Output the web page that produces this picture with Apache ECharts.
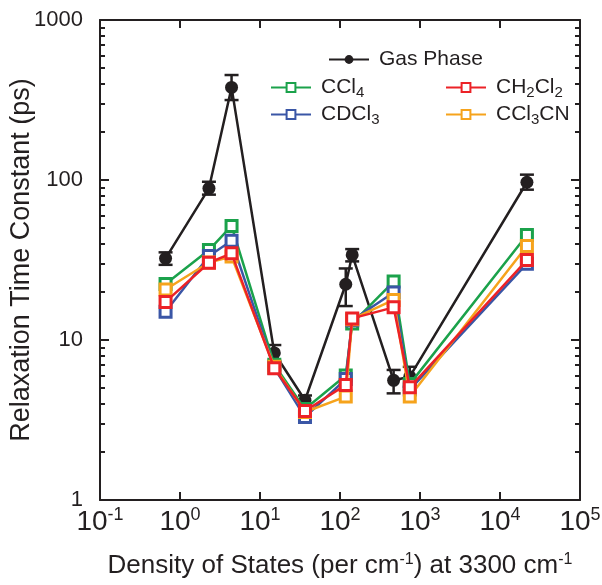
<!DOCTYPE html>
<html>
<head>
<meta charset="utf-8">
<script src="https://cdn.jsdelivr.net/npm/echarts@6/dist/echarts.min.js"></script>
<style>html,body{margin:0;padding:0;background:#fff}#c{width:602px;height:585px}</style>
</head>
<body>
<div id="c"></div>
<script>
// ---- data ----
const xVals   = [0.66, 2.3, 4.41, 15.1, 36.5, 118, 142, 468, 745, 21700];
const gas     = [32.4, 88.7, 379, 8.3, 4.2, 22.3, 34, 5.6, 5.9, 96.8];
const gasLow  = [29.5, 81, 316, 7.4, 3.9, 16.3, 31, 4.64, 5.1, 87];
const gasHigh = [35.3, 97.5, 453, 9.3, 4.5, 28, 37, 6.5, 6.8, 108];
const ccl4    = [22.4, 36.5, 51.6, 7.0, 3.7, 6.0, 12.7, 23.2, 5.3, 45.3];
const cdcl3   = [15.0, 33.5, 41.7, 6.7, 3.3, 5.7, 13.3, 19.8, 4.9, 30.0];
const ch2cl2  = [17.3, 30.4, 34.8, 6.65, 3.6, 5.24, 13.65, 16.0, 5.06, 31.6];
const ccl3cn  = [20.7, 30.5, 33.2, 6.8, 3.55, 4.43, 13.5, 17.8, 4.43, 38.7];
const xTicks  = [0.1, 1, 10, 100, 1000, 10000, 100000];
const yTicks  = [1, 10, 100, 1000];
const yMinor  = [2,3,4,5,6,7,8,9,20,30,40,50,60,70,80,90,200,300,400,500,600,700,800,900];

const names = {
  'Gas Phase': 'Gas Phase',
  'CCl4': 'CCl{s|4}',
  'CDCl3': 'CDCl{s|3}',
  'CH2Cl2': 'CH{s|2}Cl{s|2}',
  'CCl3CN': 'CCl{s|3}CN'
};

const INK = '#231F20';
const FONT = '"Liberation Sans", Arial, Helvetica, sans-serif';
const zip = arr => xVals.map((x, i) => [x, arr[i]]);

const chart = echarts.init(document.getElementById('c'), null, {renderer: 'canvas'});

function yAxisDef(pos, ticks, len, showLine, showLabel) {
  return {
    type: 'log', min: 1, max: 1000, position: pos,
    axisLine: {show: showLine, lineStyle: {color: INK, width: 2}},
    axisTick: {show: true, inside: true, length: len, customValues: ticks, lineStyle: {color: INK, width: 2}},
    axisLabel: {show: showLabel, customValues: ticks, fontSize: 22, color: INK, fontFamily: FONT, margin: 17,
                formatter: v => String(Math.round(v))},
    splitLine: {show: false},
    minorTick: {show: false}
  };
}

const legendText = {
  fontSize: 21, color: INK, fontFamily: FONT, padding: [0, 0, 0, 5],
  rich: {
    s: {fontSize: 15, color: INK, fontFamily: FONT, verticalAlign: 'bottom', padding: [10, 0, 0, 0]}
  }
};
const legendCommon = {
  itemWidth: 40, itemHeight: 11, itemGap: 4, padding: 0,
  textStyle: legendText,
  formatter: n => names[n]
};

function solvent(name, data, color, z) {
  return {
    name, type: 'line', data: zip(data), z,
    symbol: 'rect', symbolSize: 11,
    lineStyle: {color, width: 2.5},
    itemStyle: {color: '#fff', borderColor: color, borderWidth: 3},
    emphasis: {disabled: true}
  };
}

const supStyle = size => ({fontSize: size, color: INK, fontFamily: FONT, verticalAlign: 'top', padding: [0, 0, Math.round(size * 0.75), 0]});

const option = {
  animation: false,
  grid: {left: 100, right: 22, top: 20, bottom: 85, containLabel: false, outerBoundsMode: 'none'},
  legend: [
    Object.assign({}, legendCommon, {data: ['Gas Phase'], left: 328, top: 49, orient: 'vertical'}),
    Object.assign({}, legendCommon, {data: ['CCl4', 'CDCl3'], left: 270, top: 77, orient: 'vertical'}),
    Object.assign({}, legendCommon, {data: ['CH2Cl2', 'CCl3CN'], left: 445, top: 77, orient: 'vertical'})
  ],
  xAxis: [
    {
      type: 'log', min: 0.1, max: 100000, position: 'bottom',
      axisLine: {lineStyle: {color: INK, width: 2}},
      axisTick: {inside: true, length: 8, customValues: xTicks, lineStyle: {color: INK, width: 2}},
      axisLabel: {
        customValues: xTicks, fontSize: 28, color: INK, fontFamily: FONT, margin: 6,
        formatter: v => '10{sup|' + Math.round(Math.log10(v)) + '}',
        rich: {sup: supStyle(18)}
      },
      splitLine: {show: false},
      name: 'Density of States (per cm{sup|-1}) at 3300 cm{sup|-1}',
      nameLocation: 'middle', nameGap: 52, nameMoveOverlap: false,
      nameTextStyle: {
        fontSize: 26, color: INK, fontFamily: FONT,
        rich: {sup: supStyle(16)}
      }
    },
    {
      type: 'log', min: 0.1, max: 100000, position: 'top',
      axisLine: {lineStyle: {color: INK, width: 2}},
      axisTick: {inside: true, length: 8, customValues: xTicks, lineStyle: {color: INK, width: 2}},
      axisLabel: {show: false},
      splitLine: {show: false}
    }
  ],
  yAxis: [
    Object.assign(yAxisDef('left', yTicks, 9, true, true), {
      name: 'Relaxation Time Constant (ps)', nameLocation: 'middle', nameGap: 65, nameMoveOverlap: false,
      nameTextStyle: {fontSize: 27, color: INK, fontFamily: FONT}
    }),
    yAxisDef('left', yMinor, 5, false, false),
    yAxisDef('right', yTicks, 9, true, false),
    yAxisDef('right', yMinor, 5, false, false)
  ],
  series: [
    {
      name: 'Gas Phase', type: 'line', data: zip(gas), z: 2,
      symbol: 'circle', symbolSize: 13,
      lineStyle: {color: INK, width: 2.5},
      itemStyle: {color: INK},
      emphasis: {disabled: true}
    },
    {
      name: 'gasErr', type: 'custom', z: 2, silent: true,
      data: xVals.map((x, i) => [x, gasLow[i], gasHigh[i]]),
      encode: {x: 0, y: [1, 2]},
      renderItem: (params, api) => {
        const x = api.value(0);
        const lo = api.coord([x, api.value(1)]);
        const hi = api.coord([x, api.value(2)]);
        const w = 7;
        const st = {stroke: INK, lineWidth: 2.5};
        return {
          type: 'group',
          children: [
            {type: 'line', shape: {x1: lo[0], y1: lo[1], x2: hi[0], y2: hi[1]}, style: st},
            {type: 'line', shape: {x1: lo[0] - w, y1: lo[1], x2: lo[0] + w, y2: lo[1]}, style: st},
            {type: 'line', shape: {x1: hi[0] - w, y1: hi[1], x2: hi[0] + w, y2: hi[1]}, style: st}
          ]
        };
      }
    },
    solvent('CCl4', ccl4, '#1BA24B', 3),
    solvent('CDCl3', cdcl3, '#3A56A6', 4),
    solvent('CCl3CN', ccl3cn, '#F6A31C', 5),
    solvent('CH2Cl2', ch2cl2, '#EC2227', 6)
  ]
};
chart.setOption(option);
</script>
</body>
</html>
